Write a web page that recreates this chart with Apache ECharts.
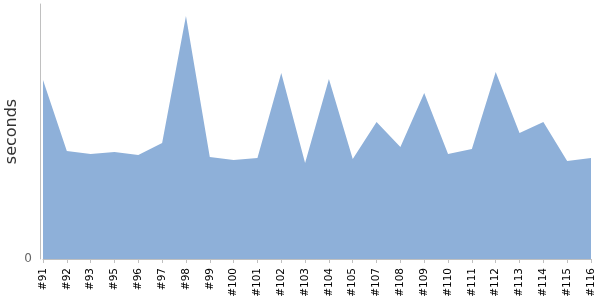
<!DOCTYPE html>
<html>
<head>
<meta charset="utf-8">
<script src="https://cdn.jsdelivr.net/npm/echarts@6/dist/echarts.min.js"></script>
<style>html,body{margin:0;padding:0;background:#fff;}#c{width:600px;height:300px;}</style>
</head>
<body>
<div id="c"></div>
<script>
var categories = ['#91','#92','#93','#95','#96','#97','#98','#99','#100','#101','#102','#103','#104','#105','#107','#108','#109','#110','#111','#112','#113','#114','#115','#116'];
var durations = [179,108,105,107,104,116,243,102,99,101,186,96,180,100,137,112,166,105,110,187,126,137,98,101];
var yMax = 255;

var chart = echarts.init(document.getElementById('c'), null, {renderer:'canvas'});
chart.setOption({
  animation: false,
  grid: {left: 43, right: 9, top: 4, bottom: 41, containLabel: false, outerBoundsMode: 'none'},
  xAxis: {
    type: 'category',
    data: categories,
    boundaryGap: false,
    offset: 4,
    axisLine: {lineStyle: {color: '#c0c0c0'}},
    axisTick: {show: true, length: 4, interval: 0, lineStyle: {color: '#c0c0c0'}},
    axisLabel: {rotate: 90, interval: 0, color: '#000', fontSize: 10.5, fontFamily: 'DejaVu Sans', margin: 5}
  },
  yAxis: {
    type: 'value',
    min: 0, max: yMax, interval: yMax,
    offset: 3,
    name: 'seconds',
    nameLocation: 'middle',
    nameGap: 20,
    nameMoveOverlap: false,
    nameTextStyle: {fontSize: 16, color: '#333', fontFamily: 'DejaVu Sans'},
    splitLine: {show: false},
    axisLine: {show: true, lineStyle: {color: '#c0c0c0'}},
    axisTick: {show: false},
    axisLabel: {color: '#666', fontSize: 12, fontFamily: 'DejaVu Sans', margin: 8,
      formatter: function(v){ return v === 0 ? '0' : ''; }}
  },
  series: [{
    type: 'line',
    data: durations,
    symbol: 'none',
    lineStyle: {width: 0},
    areaStyle: {color: '#8eb0d9', opacity: 1}
  }]
});
</script>
</body>
</html>
